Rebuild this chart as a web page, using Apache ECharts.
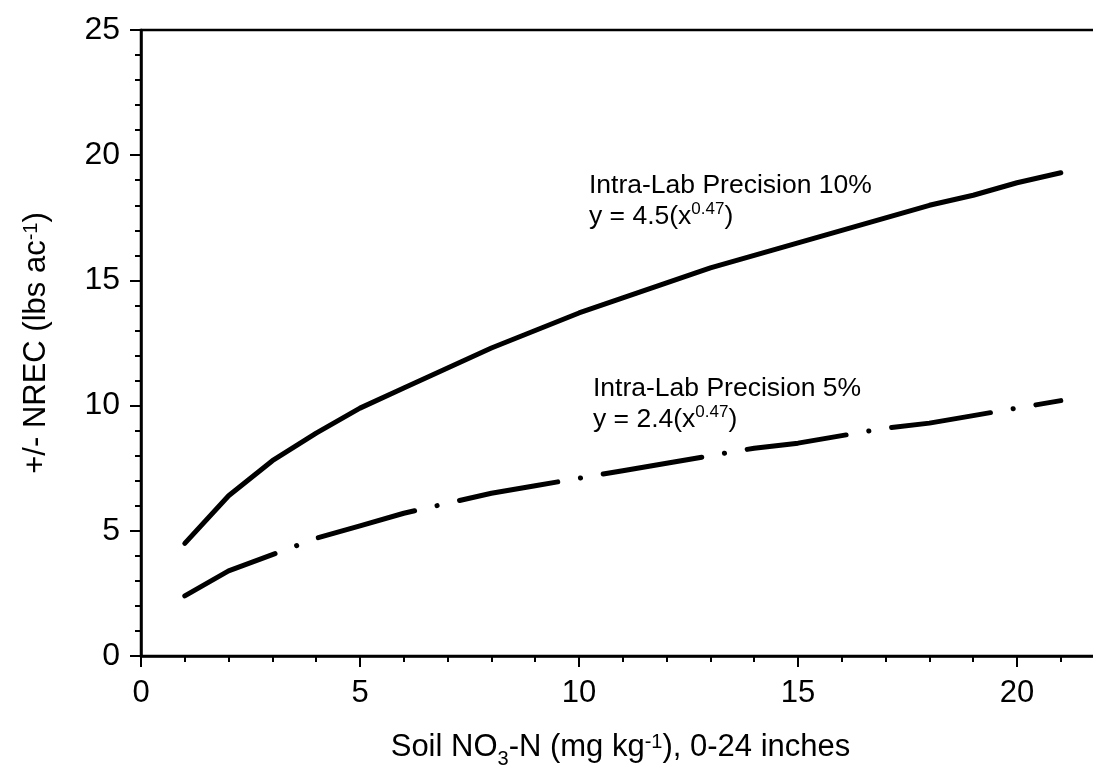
<!DOCTYPE html>
<html>
<head>
<meta charset="utf-8">
<script src="https://cdn.jsdelivr.net/npm/echarts@6/dist/echarts.min.js"></script>
<style>
  html, body { margin: 0; padding: 0; background: #fff; }
  #chart { width: 1093px; height: 780px; }
</style>
</head>
<body>
<div id="chart"></div>
<script>
// soil nitrate levels (mg/kg)
var soilN = [1, 2, 3, 4, 5, 6, 7, 8, 9, 10, 11, 12, 13, 14, 15, 16, 17, 18, 19, 20, 21];
// +/- NREC, 10% intra-lab precision
var prec10 = [4.5, 6.4, 7.8, 8.9, 9.9, 10.7, 11.5, 12.3, 13.0, 13.7, 14.3, 14.9, 15.5, 16.0, 16.5, 17.0, 17.5, 18.0, 18.4, 18.9, 19.3];
// +/- NREC, 5% intra-lab precision
var prec5 = [2.4, 3.4, 4.05, 4.7, 5.2, 5.7, 6.1, 6.5, 6.8, 7.1, 7.4, 7.7, 8.0, 8.3, 8.5, 8.8, 9.1, 9.3, 9.6, 9.9, 10.2];

var FONT = "'Liberation Sans', Arial, sans-serif";

function pairs(xs, ys) {
  var out = [];
  xs.forEach(function (x, i) { out.push([x, ys[i]]); });
  return out;
}

var chart = echarts.init(document.getElementById("chart"));

chart.setOption({
  backgroundColor: "#fff",
  animation: false,
  grid: {
    left: 141,
    top: 30,
    bottom: 124,
    right: -143,
    outerBoundsMode: "none",
    containLabel: false,
    show: true,
    borderColor: "#000",
    borderWidth: 2.5,
    backgroundColor: "transparent"
  },
  xAxis: {
    type: "value",
    min: 0,
    max: 25,
    interval: 5,
    name: "Soil NO{sub|3}-N (mg kg{sup|-1}), 0-24 inches",
    nameLocation: "middle",
    nameGap: 76,
    nameTextStyle: {
      fontFamily: FONT, fontSize: 31, color: "#000",
      // axis runs past the right edge, pull the title back to the visible centre
      padding: [0, 136, 0, 0],
      rich: {
        sub: { fontFamily: FONT, fontSize: 20, color: "#000", verticalAlign: "bottom", lineHeight: 20, padding: [0, 0, -6, 0] },
        sup: { fontFamily: FONT, fontSize: 20, color: "#000", verticalAlign: "top", lineHeight: 20 }
      }
    },
    axisLine: { lineStyle: { color: "#000", width: 2.5 } },
    axisTick: { length: 11, lineStyle: { color: "#000", width: 2 } },
    minorTick: { show: true, splitNumber: 5, length: 6, lineStyle: { color: "#000", width: 2 } },
    axisLabel: { margin: 22, fontFamily: FONT, fontSize: 31, color: "#000", showMaxLabel: false },
    splitLine: { show: false }
  },
  yAxis: {
    type: "value",
    min: 0,
    max: 25,
    interval: 5,
    name: "+/- NREC (lbs ac{sup|-1})",
    nameLocation: "middle",
    nameGap: 89,
    nameTextStyle: {
      fontFamily: FONT, fontSize: 31, color: "#000",
      rich: {
        sup: { fontFamily: FONT, fontSize: 20, color: "#000", verticalAlign: "top", lineHeight: 20 }
      }
    },
    axisLine: { show: true, lineStyle: { color: "#000", width: 2.5 } },
    axisTick: { show: true, length: 11, lineStyle: { color: "#000", width: 2 } },
    minorTick: { show: true, splitNumber: 5, length: 6, lineStyle: { color: "#000", width: 2 } },
    axisLabel: { margin: 21, fontFamily: FONT, fontSize: 32, color: "#000" },
    splitLine: { show: false }
  },
  series: [
    {
      name: "Intra-Lab Precision 10%",
      type: "line",
      data: pairs(soilN, prec10),
      showSymbol: false,
      lineStyle: { color: "#000", width: 5, cap: "round", join: "round" }
    },
    {
      name: "Intra-Lab Precision 5%",
      type: "line",
      data: pairs(soilN, prec5),
      showSymbol: false,
      lineStyle: { color: "#000", width: 5, type: [100, 23, 0.1, 23], cap: "round", join: "round" }
    }
  ],
  graphic: [
    {
      type: "text",
      left: 589,
      top: 172,
      style: {
        text: "{a|Intra-Lab Precision 10%}\n{a|y = 4.5(x}{s|0.47}{a|)}",
        rich: {
          a: { fontFamily: FONT, fontSize: 26.5, lineHeight: 31, fill: "#000" },
          s: { fontFamily: FONT, fontSize: 17, lineHeight: 17, fill: "#000", verticalAlign: "top" }
        }
      }
    },
    {
      type: "text",
      left: 593,
      top: 375,
      style: {
        text: "{a|Intra-Lab Precision 5%}\n{a|y = 2.4(x}{s|0.47}{a|)}",
        rich: {
          a: { fontFamily: FONT, fontSize: 26.5, lineHeight: 31, fill: "#000" },
          s: { fontFamily: FONT, fontSize: 17, lineHeight: 17, fill: "#000", verticalAlign: "top" }
        }
      }
    }
  ]
});
</script>
</body>
</html>
